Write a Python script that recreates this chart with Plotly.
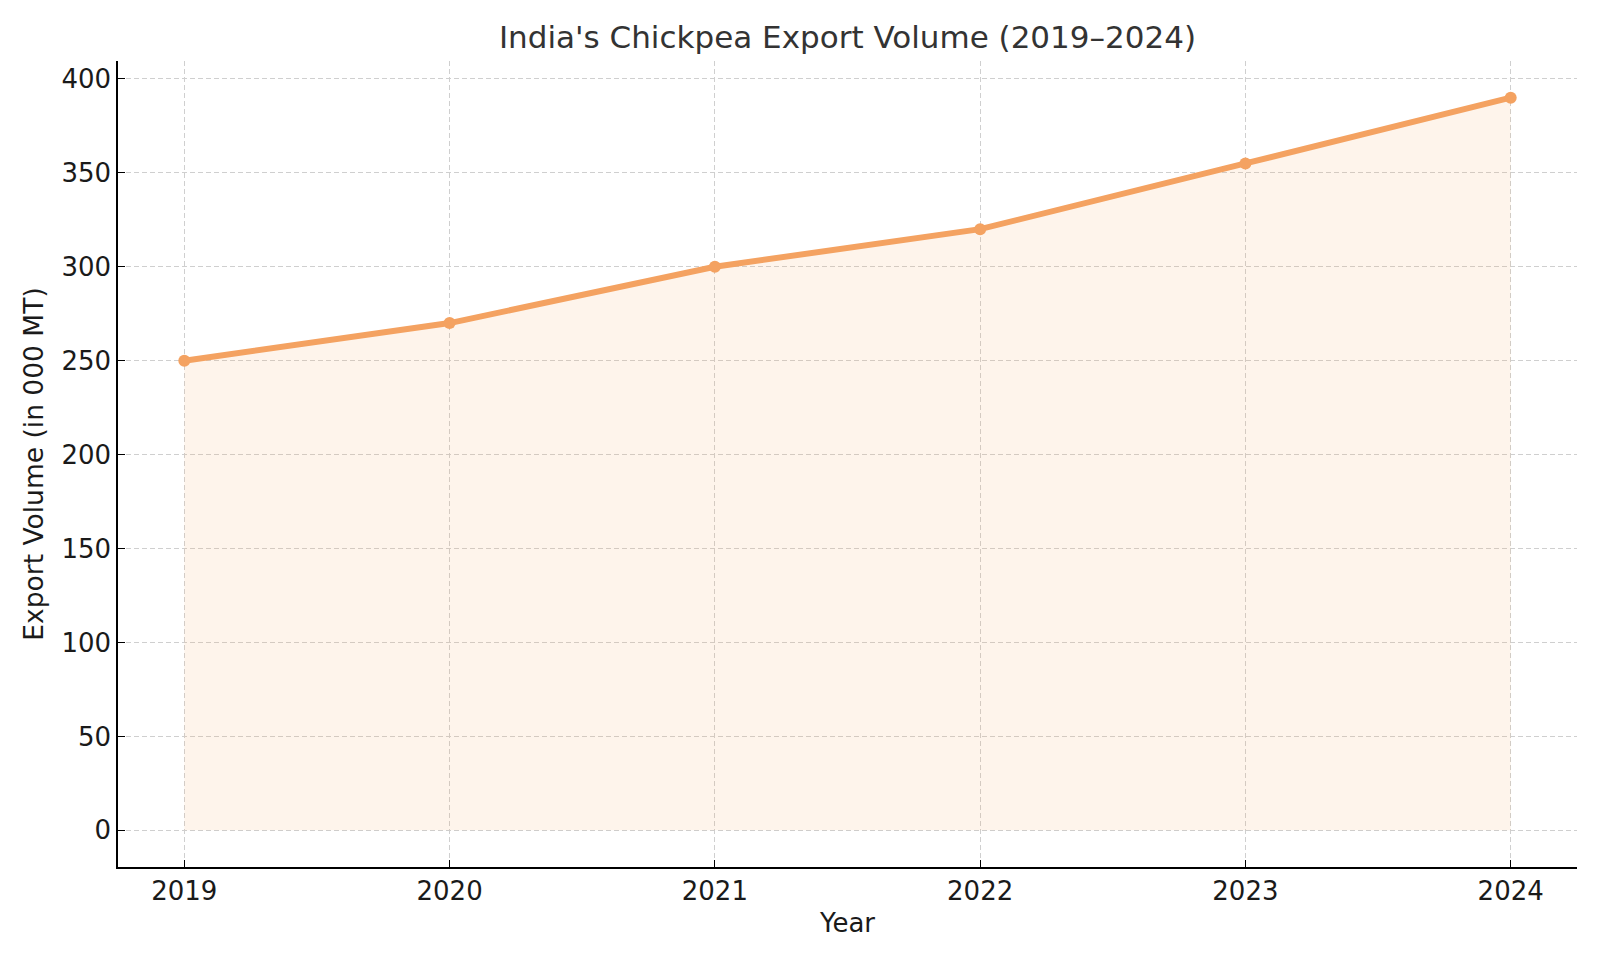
import plotly.graph_objects as go

years = [2019, 2020, 2021, 2022, 2023, 2024]
export_volume = [250, 270, 300, 320, 355, 390]
y_ticks = [0, 50, 100, 150, 200, 250, 300, 350, 400]

LINE = "#F4A261"
FONT = "DejaVu Sans"

fig = go.Figure()
fig.add_trace(go.Scatter(
    x=years, y=export_volume, mode="lines+markers",
    line=dict(color=LINE, width=6),
    marker=dict(color=LINE, size=12),
    fill="tozeroy", fillcolor="rgba(250,180,110,0.14)",
    hoverinfo="x+y", showlegend=False,
))

axis_common = dict(
    showline=True, linecolor="black", linewidth=1.5, mirror=False,
    showgrid=True, gridcolor="#cfcfcf", gridwidth=1, griddash="5px,3px",
    ticks="inside", ticklen=7, tickwidth=1.2, tickcolor="black",
    zeroline=False, tickfont=dict(family=FONT, size=26, color="#1a1a1a"),
)

fig.update_layout(
    width=1600, height=960,
    margin=dict(l=118, r=23, t=61, b=93),
    paper_bgcolor="white", plot_bgcolor="white",
    font=dict(family=FONT, color="#1a1a1a"),
    title=dict(text="India's Chickpea Export Volume (2019–2024)",
               font=dict(family=FONT, size=31, color="#333333"),
               x=0.5, xref="paper", xanchor="center",
               y=1 - 37 / 960, yref="container", yanchor="middle"),
    xaxis=dict(axis_common, range=[2018.75, 2024.25], tickvals=years,
               ticktext=[str(y) for y in years],
               title=dict(text="Year", font=dict(family=FONT, size=26, color="#1a1a1a"), standoff=9)),
    yaxis=dict(axis_common, range=[-19.5, 409.5], tickvals=y_ticks,
               title=dict(text="Export Volume (in 000 MT)", font=dict(family=FONT, size=26.5, color="#1a1a1a"), standoff=10)),
)

fig.write_html("out.html")
